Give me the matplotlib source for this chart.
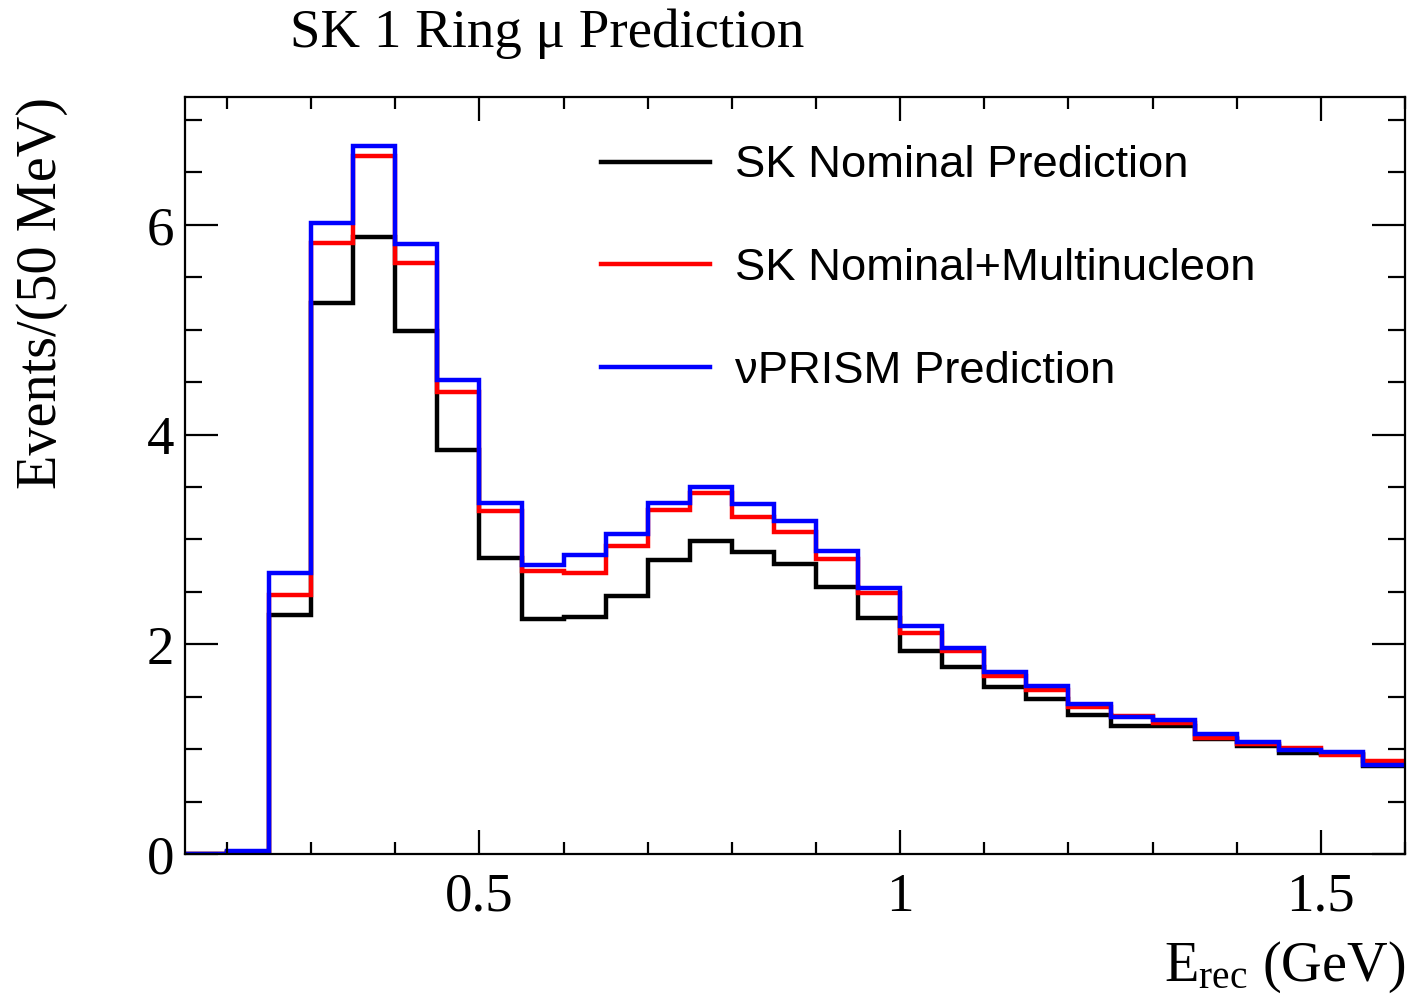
import numpy as np
import matplotlib
matplotlib.use("Agg")
import matplotlib.pyplot as plt
from matplotlib.ticker import MultipleLocator, FixedLocator, StrMethodFormatter

# ───── Binning (50 MeV bins) ─────────────────────────────────
e_lo, e_hi, bin_w = 0.15, 1.60, 0.05
edges = np.round(np.arange(e_lo, e_hi + bin_w / 2, bin_w), 3)

# ───── Predicted events per bin ──────────────────────────────
sk_nominal = [0.00, 0.02, 2.28, 5.26, 5.88, 4.99, 3.85, 2.82, 2.24, 2.26,
              2.46, 2.80, 2.99, 2.88, 2.77, 2.55, 2.25, 1.94, 1.78, 1.59,
              1.48, 1.33, 1.22, 1.22, 1.10, 1.03, 0.96, 0.95, 0.84]
sk_multinuc = [0.00, 0.02, 2.47, 5.83, 6.66, 5.64, 4.41, 3.27, 2.70, 2.68,
               2.94, 3.28, 3.44, 3.21, 3.07, 2.81, 2.49, 2.11, 1.94, 1.70,
               1.56, 1.40, 1.32, 1.25, 1.11, 1.05, 1.01, 0.94, 0.89]
nuprism = [0.00, 0.03, 2.68, 6.02, 6.75, 5.82, 4.52, 3.35, 2.76, 2.85,
           3.05, 3.35, 3.50, 3.34, 3.18, 2.89, 2.54, 2.17, 1.96, 1.74,
           1.60, 1.43, 1.31, 1.28, 1.14, 1.07, 0.99, 0.97, 0.85]

labels = ["SK Nominal Prediction", "SK Nominal+Multinucleon", "\u03bdPRISM Prediction"]
colors = ["black", "#ff0000", "#0000ff"]

# ───── Style ─────────────────────────────────────────────────
serif = "Liberation Serif"
plt.rcParams["font.family"] = [serif, "DejaVu Serif"]
plt.rcParams["mathtext.fontset"] = "custom"
plt.rcParams["mathtext.rm"] = serif
plt.rcParams["mathtext.it"] = serif + ":italic"

fig = plt.figure(figsize=(14.07, 9.99), dpi=100)
ax = fig.add_axes([185/1407, 1 - 854/999, 1220/1407, 757/999])

for vals, lab, col in zip([sk_nominal, sk_multinuc, nuprism], labels, colors):
    ax.stairs(vals, edges, baseline=None, color=col, lw=3.2, label=lab)

ax.set_xlim(e_lo, e_hi)
ax.set_ylim(0, 7.22)

# ───── Axes / ticks (ROOT-like) ──────────────────────────────
for sp in ax.spines.values():
    sp.set_linewidth(1.6)

ax.xaxis.set_major_locator(FixedLocator([0.5, 1.0, 1.5]))
ax.xaxis.set_minor_locator(MultipleLocator(0.1))
ax.xaxis.set_major_formatter(StrMethodFormatter("{x:g}"))
ax.yaxis.set_major_locator(MultipleLocator(2))
ax.yaxis.set_minor_locator(MultipleLocator(0.5))

ax.tick_params(axis="both", which="both", direction="in", top=True, right=True,
               width=1.6, labelsize=39.5)
ax.tick_params(axis="x", which="major", length=17, pad=13)
ax.tick_params(axis="x", which="minor", length=8.5)
ax.tick_params(axis="y", which="major", length=24, pad=8)
ax.tick_params(axis="y", which="minor", length=12)

ax.set_xlabel(r"E$_{\mathrm{rec}}$ (GeV)", fontsize=40.5, loc="right")
ax.xaxis.set_label_coords(1.0, -0.113)
ax.set_ylabel("Events/(50 MeV)", fontsize=40.5, loc="top")
ax.yaxis.set_label_coords(-0.0955, 1.0)

fig.text(290/1407, 1 - 47/999, "SK 1 Ring \u03bc Prediction", fontsize=39.5,
         ha="left", va="baseline")

leg = ax.legend(loc="upper left", bbox_to_anchor=(0.341, 0.936), frameon=False,
                borderpad=0, borderaxespad=0, handlelength=2.4, handletextpad=0.54,
                labelspacing=1.36, prop={"family": ["Liberation Sans", "DejaVu Sans"], "size": 32.7})

fig.savefig("out.png", dpi=100)
